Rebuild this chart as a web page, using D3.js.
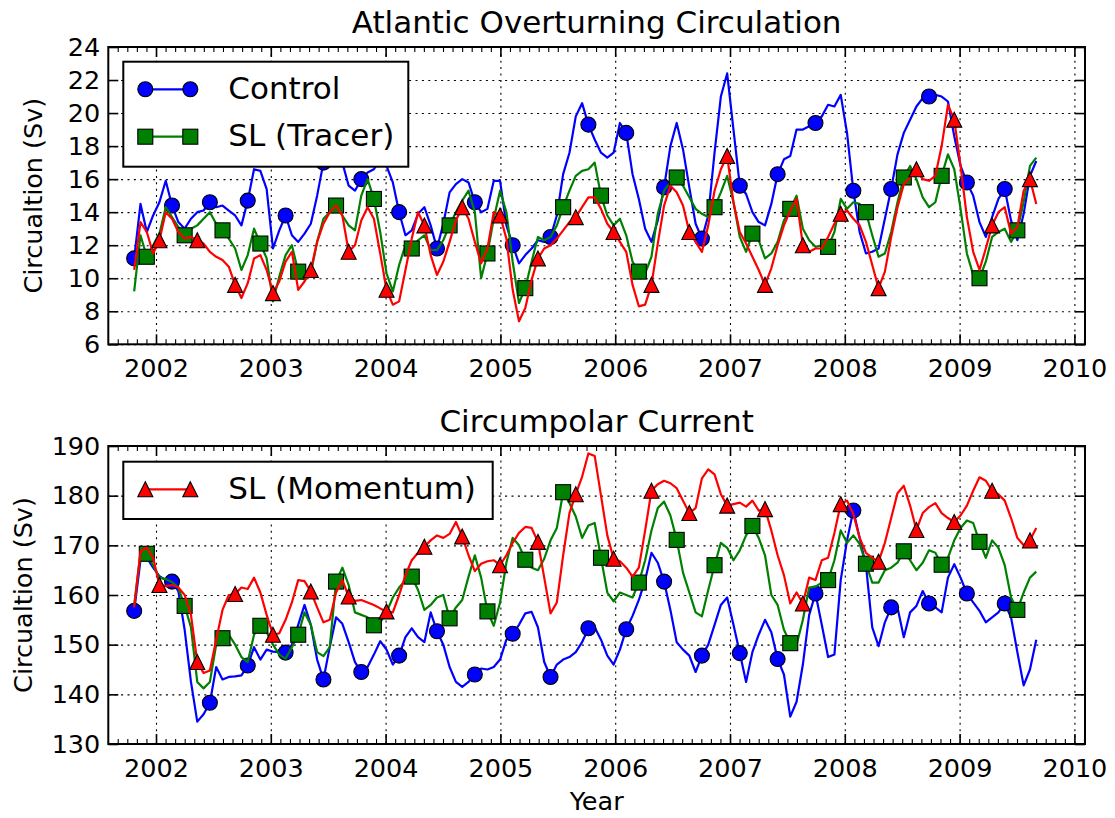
<!DOCTYPE html>
<html>
<head>
<meta charset="utf-8">
<script src="https://cdn.jsdelivr.net/npm/d3@7"></script>
<style>
  body { margin: 0; background: #fff; }
  svg { display: block; font-family: "DejaVu Sans", sans-serif; }
  .grid line { stroke: #000; stroke-width: 1.1; stroke-dasharray: 2,4.4; }
  .grid .domain { display: none; }
  .ticks .domain { display: none; }
  .ticks line { stroke: #000; stroke-width: 1.6; }
  .ticks.minor line { stroke-width: 1.1; }
  .ticks text { font-size: 25.5px; fill: #000; font-family: "DejaVu Sans", sans-serif; }
</style>
</head>
<body>
<svg id="chart" width="1115" height="818"></svg>
<script>
// sampling of the model output (fractional years)
const startYear = 2001.81, stepYears = 0.05495
const markEvery = 6

const yearTicks = [2002, 2003, 2004, 2005, 2006, 2007, 2008, 2009, 2010]
const atlTicks = [6, 8, 10, 12, 14, 16, 18, 20, 22, 24]
const accTicks = [130, 140, 150, 160, 170, 180, 190]

// Atlantic overturning circulation (Sv)
const atlControl = [11.2,14.5,12.8,13.8,14.6,15.9,14.4,13.4,13.0,13.6,
  14.0,14.1,14.6,14.3,14.4,14.1,13.8,13.2,14.7,16.6,
  16.5,15.4,11.8,12.9,13.8,12.6,12.2,12.7,13.3,15.0,
  17.0,17.8,18.0,17.0,15.6,15.3,16.0,16.4,16.6,17.2,
  16.8,15.8,14.0,12.6,12.9,13.9,14.3,13.2,11.8,13.3,
  15.2,15.7,16.0,15.8,14.6,14.0,14.2,15.9,15.9,13.2,
  12.0,10.9,11.4,11.8,12.3,12.2,12.5,13.8,16.3,17.6,
  19.8,20.6,19.3,18.4,17.6,17.3,17.6,19.4,18.8,16.3,
  14.8,13.0,12.2,13.5,15.5,18.0,19.4,17.8,15.5,13.3,
  12.4,13.8,17.6,21.0,22.4,19.0,15.6,15.1,14.0,13.4,
  13.2,14.5,16.3,17.2,17.4,19.0,19.0,19.2,19.4,19.8,
  20.5,20.4,21.1,18.8,15.3,12.8,11.5,11.6,11.8,13.6,
  15.4,17.5,18.8,19.6,20.4,20.9,21.0,21.1,21.0,20.7,
  18.6,16.8,15.8,15.0,13.4,12.5,13.7,14.8,15.4,13.5,
  12.3,13.9,16.2,17.1]
const atlTracer = [9.2,12.6,11.3,12.0,12.7,14.3,13.7,13.1,12.6,13.0,
  13.2,13.6,14.0,13.3,12.9,12.4,11.8,10.5,11.4,13.0,
  12.1,11.2,8.6,10.1,11.4,12.0,10.4,9.9,10.3,12.2,
  13.6,14.0,14.4,13.8,13.2,12.9,15.0,16.0,14.8,12.8,
  10.3,9.2,10.8,12.0,11.8,12.3,12.6,11.7,11.7,12.3,
  13.2,14.0,14.7,15.3,14.0,10.0,11.5,13.6,15.3,14.0,
  11.0,8.5,9.4,11.0,12.5,12.3,12.5,13.2,14.3,15.3,
  16.2,16.5,16.6,17.0,15.0,13.8,13.2,13.6,12.6,11.0,
  10.4,10.3,11.3,13.9,15.3,15.8,16.1,15.6,14.9,14.2,
  13.9,13.7,14.3,15.2,16.2,14.6,12.5,11.6,12.7,12.3,
  11.2,11.5,12.2,13.5,14.2,15.0,13.0,12.3,11.9,12.0,
  11.9,12.8,14.8,14.2,14.6,14.5,14.0,12.6,11.3,11.5,
  12.8,14.6,16.1,16.8,16.0,14.9,14.3,14.6,16.2,17.5,
  16.6,14.2,11.5,10.2,10.0,11.0,12.5,12.8,13.0,12.2,
  12.9,14.6,16.8,17.3]
const atlMomentum = [10.5,13.4,12.8,11.5,12.3,14.0,13.6,12.8,12.4,12.5,
  12.3,12.1,11.6,11.3,11.1,10.7,9.6,8.8,9.7,11.2,
  11.4,10.5,9.1,9.8,11.0,11.6,9.3,9.8,10.5,12.2,
  13.3,14.0,14.4,13.8,11.6,12.0,13.5,14.3,13.6,11.5,
  9.3,8.4,8.6,10.5,12.4,14.0,13.2,11.4,10.2,11.0,
  12.2,13.5,14.3,13.6,12.2,10.9,11.8,14.0,13.8,12.4,
  9.3,7.4,8.2,9.9,11.2,11.8,12.0,12.4,12.9,13.4,
  13.7,14.3,14.9,14.9,14.2,13.3,12.8,12.2,11.6,9.6,
  8.3,8.4,9.6,12.1,14.4,15.6,15.2,14.4,12.8,12.2,
  11.6,13.2,15.3,16.6,17.4,14.6,12.8,12.1,11.3,10.5,
  9.6,10.6,12.0,13.2,14.1,14.8,12.0,11.6,11.8,11.8,
  12.5,13.3,13.9,14.1,13.6,13.2,12.2,10.8,9.4,10.4,
  12.5,14.3,15.7,16.1,16.6,16.0,15.9,16.2,18.0,20.5,
  19.6,16.8,13.7,11.6,10.5,11.8,13.2,14.0,14.3,12.7,
  13.1,15.3,16.0,14.5]

// Antarctic circumpolar current (Sv)
const accControl = [156.8,167.0,167.5,165.5,163.8,163.0,162.7,160.8,153.0,142.5,
  134.5,136.0,138.3,145.5,143.0,143.5,143.6,143.8,145.8,149.5,
  147.0,149.0,148.6,148.5,148.4,150.0,154.0,158.0,154.0,147.0,
  143.0,149.5,155.5,154.2,150.5,146.5,144.5,145.5,148.0,150.7,
  149.0,146.0,147.8,151.5,153.3,151.5,150.5,156.5,152.7,150.0,
  145.5,142.5,141.5,142.5,144.0,145.2,145.0,145.5,147.0,151.0,
  152.2,154.0,156.3,156.6,153.5,146.5,143.5,146.0,147.0,147.5,
  148.5,150.5,153.3,153.5,151.0,147.8,146.0,149.0,153.1,155.8,
  159.0,163.0,168.5,166.5,162.7,157.0,150.5,149.0,147.8,144.5,
  147.8,150.0,154.0,158.0,159.5,154.0,148.3,142.5,148.5,152.0,
  155.0,152.5,147.1,144.0,135.5,138.5,146.0,156.0,160.3,154.0,
  147.5,148.0,163.0,171.0,177.0,171.5,166.0,153.5,149.7,154.5,
  157.5,157.5,151.5,156.5,157.8,160.8,158.3,157.5,156.5,163.5,
  166.2,163.5,160.3,158.5,156.8,154.5,155.5,156.5,158.3,155.5,
  148.5,141.8,145.0,151.0]
const accTracer = [158.0,168.5,168.3,166.0,163.5,163.2,162.6,161.5,157.8,153.5,
  142.5,141.2,142.5,150.0,151.3,152.0,150.0,147.5,146.5,152.0,
  153.8,152.5,150.0,148.0,147.2,149.5,152.0,156.5,154.0,148.5,
  147.7,149.5,162.7,165.5,162.0,156.5,156.0,155.5,153.9,154.5,
  156.5,159.5,161.5,163.0,163.7,161.0,157.0,158.0,159.5,160.0,
  155.3,157.5,159.0,163.7,168.0,163.5,156.7,153.8,158.5,166.5,
  171.5,170.0,167.1,165.5,165.0,167.3,171.0,173.5,180.7,178.5,
  175.8,171.5,174.0,174.5,167.5,160.5,158.7,160.5,160.0,159.5,
  162.5,167.0,173.0,177.5,178.8,176.0,171.1,164.5,160.5,156.5,
  155.7,161.0,166.0,170.5,169.5,167.0,169.0,172.0,173.9,171.5,
  168.0,160.0,158.0,153.0,150.3,150.0,155.0,161.5,161.7,162.5,
  163.0,167.0,173.0,170.5,172.0,170.3,166.3,162.5,162.5,165.0,
  165.5,166.5,168.8,167.0,165.0,166.5,169.0,168.5,166.1,167.5,
  171.0,173.5,175.0,174.5,170.7,167.5,171.0,169.5,166.0,159.5,
  157.0,160.5,163.5,164.7]
const accMomentum = [157.5,168.8,169.5,167.5,162.0,161.8,162.0,161.5,160.0,156.0,
  146.5,144.3,144.8,151.0,157.0,160.0,160.2,161.5,161.2,163.5,
  160.5,156.0,152.0,152.3,155.0,158.5,163.0,162.8,160.7,157.5,
  154.5,155.0,160.5,163.0,159.7,158.8,159.0,158.5,158.0,157.3,
  156.7,156.5,160.0,164.0,167.0,168.5,169.7,171.0,172.0,171.5,
  172.3,174.7,171.8,168.0,164.8,166.3,166.8,167.0,166.0,168.0,
  170.5,172.5,173.7,173.5,170.7,163.5,156.3,158.5,168.0,176.5,
  180.3,183.8,188.5,188.0,180.0,172.0,167.3,166.8,165.5,163.7,
  165.5,173.0,181.0,182.3,183.0,182.5,181.5,179.0,176.5,177.5,
  183.5,185.3,184.3,180.3,178.0,178.3,178.6,177.8,179.0,177.0,
  177.3,173.0,168.0,164.0,158.3,160.5,158.3,163.5,163.0,167.0,
  167.5,172.5,178.3,179.0,176.3,171.5,168.5,167.5,166.7,170.5,
  175.5,180.5,182.0,178.0,173.1,176.5,177.7,178.5,176.5,175.5,
  174.7,176.0,178.0,181.0,183.7,183.0,181.0,180.3,179.0,175.5,
  171.5,170.0,171.0,173.5]

const styles = {
  control:  {color: "#0000ff", marker: "circle",   offset: 0, label: "Control"},
  tracer:   {color: "#008000", marker: "square",   offset: 2, label: "SL (Tracer)"},
  momentum: {color: "#ff0000", marker: "triangle", offset: 4, label: "SL (Momentum)"}
}

var svg = d3.select("#chart"),
    left = 108.3, right = 1085,
    x = d3.scaleLinear().domain([2001.5845, 2010.0923]).range([left, right]),
    monthTicks = d3.range(Math.ceil(x.domain()[0] * 12), Math.floor(x.domain()[1] * 12) + 1)
      .map((m) => m / 12)
      .filter((v) => Math.abs(v - Math.round(v)) > 1e-6)


function addMarker(sel, shape, color) {
  var h = 7.5
  if (shape == "circle") {
    sel.append("circle").attr("r", h)
  } else if (shape == "square") {
    sel.append("rect").attr("x", -h).attr("y", -h).attr("width", 2 * h).attr("height", 2 * h)
  } else {
    sel.append("path").attr("d", `M0,${-h}L${h},${h}L${-h},${h}Z`)
  }
  sel.selectAll("*")
    .attr("fill", color)
    .attr("stroke", "#000")
    .attr("stroke-width", 1.1)
}


function drawPanel(p, idx) {
  var y = d3.scaleLinear().domain(p.yDomain).range([p.bottom, p.top]),
      g = svg.append("g"),
      clipId = `clip-${idx}`

  g.append("clipPath").attr("id", clipId)
    .append("rect")
      .attr("x", left).attr("y", p.top)
      .attr("width", right - left).attr("height", p.bottom - p.top)

  // dotted grid
  g.append("g").attr("class", "grid")
    .attr("transform", `translate(0,${p.bottom})`)
    .call(d3.axisBottom(x).tickValues(yearTicks).tickSize(-(p.bottom - p.top)).tickFormat(""))
  g.append("g").attr("class", "grid")
    .attr("transform", `translate(${left},0)`)
    .call(d3.axisLeft(y).tickValues(p.yTicks).tickSize(-(right - left)).tickFormat(""))

  var line = d3.line()
    .x((d) => x(d.t))
    .y((d) => y(d.v))

  p.series.forEach((s) => {
    var st = styles[s.key],
        pts = s.values.map((v, i) => ({t: startYear + i * stepYears, v: v, i: i})),
        sg = g.append("g").attr("clip-path", `url(#${clipId})`)

    sg.append("path")
      .datum(pts)
      .attr("d", line)
      .attr("fill", "none")
      .attr("stroke", st.color)
      .attr("stroke-width", 2.2)
      .attr("stroke-linejoin", "round")

    sg.selectAll("g.mk")
      .data(pts.filter((d) => d.i % markEvery == st.offset))
      .enter().append("g")
        .attr("class", "mk")
        .attr("transform", (d) => `translate(${x(d.t)},${y(d.v)})`)
        .each(function () { addMarker(d3.select(this), st.marker, st.color) })
  })

  // frame
  g.append("rect")
    .attr("x", left).attr("y", p.top)
    .attr("width", right - left).attr("height", p.bottom - p.top)
    .attr("fill", "none").attr("stroke", "#000").attr("stroke-width", 2)

  // ticks, pointing inwards
  g.append("g").attr("class", "ticks")
    .attr("transform", `translate(0,${p.bottom})`)
    .call(d3.axisBottom(x).tickValues(yearTicks).tickSize(-10).tickPadding(14.5).tickFormat(d3.format("d")))
  g.append("g").attr("class", "ticks")
    .attr("transform", `translate(0,${p.top})`)
    .call(d3.axisTop(x).tickValues(yearTicks).tickSize(-10).tickFormat(""))
  g.append("g").attr("class", "ticks minor")
    .attr("transform", `translate(0,${p.bottom})`)
    .call(d3.axisBottom(x).tickValues(monthTicks).tickSize(-5).tickFormat(""))
  g.append("g").attr("class", "ticks minor")
    .attr("transform", `translate(0,${p.top})`)
    .call(d3.axisTop(x).tickValues(monthTicks).tickSize(-5).tickFormat(""))
  g.append("g").attr("class", "ticks")
    .attr("transform", `translate(${left},0)`)
    .call(d3.axisLeft(y).tickValues(p.yTicks).tickSize(-10).tickPadding(8))
  g.append("g").attr("class", "ticks")
    .attr("transform", `translate(${right},0)`)
    .call(d3.axisRight(y).tickValues(p.yTicks).tickSize(-10).tickFormat(""))

  // legend
  var lg = g.append("g")
  lg.append("rect")
    .attr("x", p.legend.x).attr("y", p.legend.y)
    .attr("width", p.legend.w).attr("height", p.legend.h)
    .attr("fill", "#fff").attr("stroke", "#000").attr("stroke-width", 2)
  p.legend.keys.forEach((k, j) => {
    var st = styles[k],
        ry = p.legend.y + 27.6 + j * 47.4,
        x0 = p.legend.x + 22, x1 = p.legend.x + 67
    lg.append("line")
      .attr("x1", x0).attr("x2", x1).attr("y1", ry).attr("y2", ry)
      .attr("stroke", st.color).attr("stroke-width", 2.2)
    ;[x0, x1].forEach((mx) => {
      addMarker(lg.append("g").attr("transform", `translate(${mx},${ry})`), st.marker, st.color)
    })
    lg.append("text")
      .attr("x", p.legend.x + 105).attr("y", ry).attr("dy", "0.31em")
      .attr("font-size", 31)
      .text(st.label)
  })

  g.append("text")
    .attr("x", (left + right) / 2).attr("y", p.top - 14)
    .attr("text-anchor", "middle")
    .attr("font-size", 31)
    .text(p.title)

  g.append("text")
    .attr("transform", `translate(${p.ylabelX},${(p.top + p.bottom) / 2}) rotate(-90)`)
    .attr("text-anchor", "middle")
    .attr("font-size", 25.5)
    .text("Circualtion (Sv)")
}


drawPanel({
  top: 47, bottom: 344.3, yDomain: [6, 24], yTicks: atlTicks,
  title: "Atlantic Overturning Circulation", ylabelX: 42,
  series: [{key: "control", values: atlControl},
           {key: "tracer", values: atlTracer},
           {key: "momentum", values: atlMomentum}],
  legend: {x: 123.3, y: 61.7, w: 285, h: 105, keys: ["control", "tracer"]}
}, 0)

drawPanel({
  top: 446, bottom: 744, yDomain: [130, 190], yTicks: accTicks,
  title: "Circumpolar Current", ylabelX: 32,
  series: [{key: "control", values: accControl},
           {key: "tracer", values: accTracer},
           {key: "momentum", values: accMomentum}],
  legend: {x: 123.3, y: 461.7, w: 369.4, h: 57.3, keys: ["momentum"]}
}, 1)

svg.append("text")
  .attr("x", (left + right) / 2).attr("y", 810)
  .attr("text-anchor", "middle")
  .attr("font-size", 25.5)
  .text("Year")
</script>
</body>
</html>
